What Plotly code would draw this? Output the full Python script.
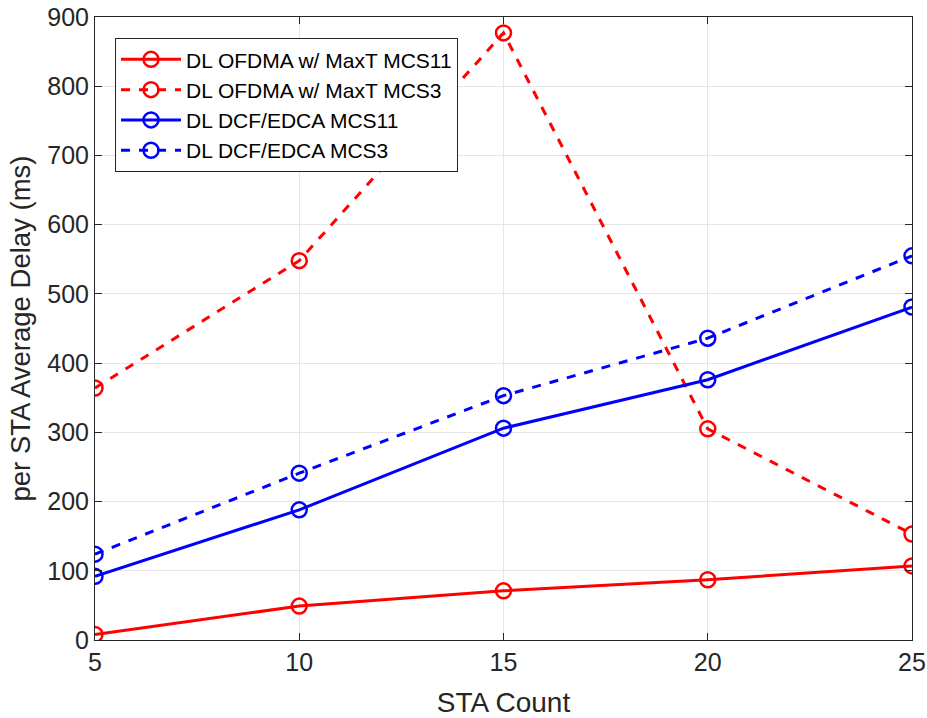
import plotly.graph_objects as go

sta_count = [5, 10, 15, 20, 25]
ofdma_mcs11 = [8, 49, 71, 87, 107]
ofdma_mcs3 = [364, 548, 877, 305, 153]
dcf_mcs11 = [92, 188, 306, 376, 481]
dcf_mcs3 = [124, 241, 353, 436, 555]

series = [
    ("DL OFDMA w/ MaxT MCS11", ofdma_mcs11, "#ff0000", "solid"),
    ("DL OFDMA w/ MaxT MCS3", ofdma_mcs3, "#ff0000", "dash"),
    ("DL DCF/EDCA MCS11", dcf_mcs11, "#0000ff", "solid"),
    ("DL DCF/EDCA MCS3", dcf_mcs3, "#0000ff", "dash"),
]

fig = go.Figure()
for name, vals, col, dash in series:
    fig.add_trace(go.Scatter(
        x=sta_count, y=vals, name=name, mode="lines+markers",
        line=dict(color=col, width=3, dash=dash),
        marker=dict(symbol="circle-open", size=15, color=col, line=dict(width=2.5, color=col)),
    ))

axis_common = dict(
    showline=True, linecolor="#262626", linewidth=1, mirror="ticks",
    ticks="inside", ticklen=7, tickcolor="#262626",
    showgrid=True, gridcolor="#e6e6e6", gridwidth=1, zeroline=False,
    automargin=False, ticklabeloverflow="allow",
    tickfont=dict(size=25, color="#262626", family="Liberation Sans, Arial, sans-serif"),
)

fig.update_layout(
    width=927, height=718,
    margin=dict(l=95, r=15, t=17, b=78),
    paper_bgcolor="white", plot_bgcolor="white",
    font=dict(family="Liberation Sans, Arial, sans-serif", color="#262626"),
    xaxis=dict(range=[5, 25], tickvals=[5, 10, 15, 20, 25],
               title=dict(text="STA Count", font=dict(size=28), standoff=20), **axis_common),
    yaxis=dict(range=[0, 900], tickvals=list(range(0, 901, 100)),
               title=dict(text="per STA Average Delay (ms)", font=dict(size=27.5), standoff=8), **axis_common),
    legend=dict(x=0.0245, y=0.966, xanchor="left", yanchor="top",
                bgcolor="white", bordercolor="#262626", borderwidth=1,
                font=dict(size=21, color="black"), tracegroupgap=0, itemwidth=60),
    showlegend=True,
)

fig.write_html(
    "out.html",
    config={"displayModeBar": False},
    post_script="document.body.style.margin='0';document.body.style.overflow='hidden';",
)
